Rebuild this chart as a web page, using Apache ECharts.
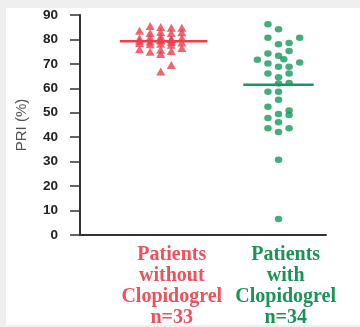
<!DOCTYPE html>
<html><head><meta charset="utf-8">
<script src="https://cdn.jsdelivr.net/npm/echarts@6/dist/echarts.min.js"></script>
<style>html,body{margin:0;padding:0;background:#efefef;width:360px;height:327px;overflow:hidden}
#c{position:absolute;left:6px;top:8px;width:354px;height:317px;background:#fff}</style>
</head><body><div id="c"></div>
<script>
// Group labels
const categories = [
  ['Patients','without','Clopidogrel','n=33'],
  ['Patients','with','Clopidogrel','n=34']
];
// Y tick values
const yTicks = [0,10,20,30,40,50,60,70,80,90];
// Group means (horizontal bars)
const means = [79.3, 61.5];
// PRI values (%) and jitter column index for patients without clopidogrel
const withoutValues = [85.5,85.1,84.8,84.8, 83.6,82.6,83.0,82.6,82.9, 80.5,80.8,81.2,80.2,80.6, 79.5,79.2,79.8,79.0,78.8, 78.0,78.2,77.8, 76.0,75.0,75.8,75.3,76.5, 74.0, 69.5, 66.9, 79.6,78.5,80.0];
const withoutCols   = [-1,0,1,2, -2,-1,0,1,2, -2,-1,0,1,2, -2,-1,0,1,2, -1,0,1, -2,-1,0,1,2, 0, 1, 0, 0,-2,1];
// PRI values (%) and jitter column index for patients with clopidogrel
const withValues = [86.2,84.2,80.7,80.7,78.0,78.5,75.3,74.2,71.7,73.3,71.9,70.2,68.8,68.8,70.6,66.1,64.5,66.1,62.2,62.0,58.6,58.6,55.3,52.5,50.9,49.1,49.5,47.9,46.1,43.7,43.7,42.1,30.8,6.5];
const withCols   = [-1,0,-1,2,0,1,1,-1,-2,0,0.5,-1,0,1,2,-1,0,1,1,0,-1,0,0,-1,1,1,0,-1,0,-1,1,0,0,0];

const centers = [3.28, 8.07];
const step = 0.43;
const labelCenters = [3.73, 8.36];
const lineHalf = [1.78, 1.43];
const RED = '#ef3d4b', GREEN = '#16995c';

const chart = echarts.init(document.getElementById('c'));
const ptsA = withoutValues.map((v,i)=>[centers[0]+withoutCols[i]*step, v]);
const ptsB = withValues.map((v,i)=>[centers[1]+withCols[i]*step, v]);
chart.setOption({
  animation:false,
  grid:{left:73,top:6,right:34,bottom:90},
  xAxis:{type:'value',min:0,max:10,axisLine:{show:true,onZero:false,lineStyle:{color:'#333',width:2}},
    axisTick:{show:false},axisLabel:{show:false},splitLine:{show:false}},
  yAxis:{type:'value',min:0,max:90,interval:10,
    name:'PRI (%)',nameLocation:'middle',nameGap:51,
    nameTextStyle:{fontFamily:'Liberation Sans',fontSize:15,color:'#555'},
    axisLine:{show:true,lineStyle:{color:'#333',width:2}},
    axisTick:{show:true,length:10,lineStyle:{color:'#333',width:1.5}},
    axisLabel:{margin:22,fontFamily:'Liberation Sans',fontWeight:'bold',fontSize:13.5,color:'#222',
      formatter:v=>yTicks.includes(v)?String(v):''},
    splitLine:{show:false}},
  series:[
    {type:'scatter',symbol:'triangle',symbolSize:[9,8],itemStyle:{color:RED},data:ptsA},
    {type:'scatter',symbol:'circle',symbolSize:[7.5,6.5],itemStyle:{color:GREEN},data:ptsB},
    {type:'line',symbol:'none',lineStyle:{color:RED,width:2.5},data:[[centers[0]-lineHalf[0]+0.12,means[0]],[centers[0]+lineHalf[0]+0.12,means[0]]]},
    {type:'line',symbol:'none',lineStyle:{color:GREEN,width:2.5},data:[[centers[1]-lineHalf[1],means[1]],[centers[1]+lineHalf[1],means[1]]]}
  ]
});
const colors=['#f0505a','#1a9455'];
const baseY = chart.convertToPixel({gridIndex:0},[0,0])[1];
const texts=[];
categories.forEach((lines,g)=>{
  const x = chart.convertToPixel({gridIndex:0},[labelCenters[g],0])[0];
  lines.forEach((t,k)=>{
    texts.push({type:'text',x:x,y:baseY+20+k*21,style:{text:t,fill:colors[g],
      font:'bold 20px "Liberation Serif"',textAlign:'center',textVerticalAlign:'middle'}});
  });
});
chart.setOption({graphic:texts});
</script></body></html>
